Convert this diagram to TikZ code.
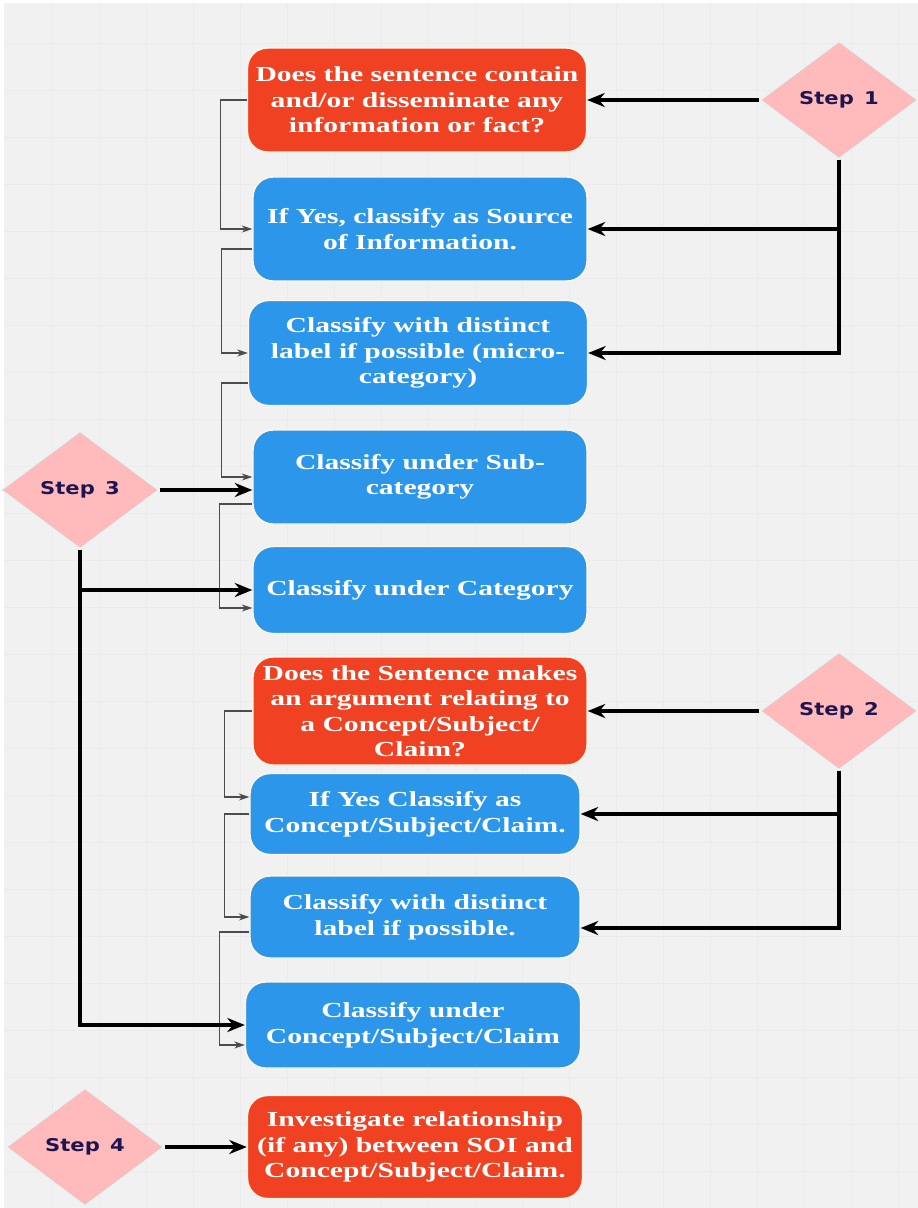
\documentclass[tikz,border=0pt]{standalone}
\usepackage{fontspec}
\usepackage{tikz}
\usetikzlibrary{shapes.geometric,arrows.meta}
\newfontfamily\boxfont{Liberation Serif}[FakeStretch=1.38]
\newfontfamily\stepfont{DejaVu Sans}[FakeStretch=1.2]
\definecolor{qred}{RGB}{240,66,34}
\definecolor{cblue}{RGB}{44,150,234}
\definecolor{steppink}{RGB}{255,187,187}
\definecolor{stepink}{RGB}{30,20,80}
\definecolor{bggrey}{RGB}{241,241,241}
\definecolor{gridgrey}{RGB}{235,235,235}
\definecolor{edgecream}{RGB}{255,246,228}
\definecolor{edgecyan}{RGB}{226,246,246}

\begin{document}
\begin{tikzpicture}[x=0.02cm, y=-0.02cm,
		qbox/.style={rounded corners=0.4cm, draw=edgecream, line width=0.8pt, text=white, align=center, inner sep=1pt, font=\boxfont\bfseries\fontsize{12.2}{14.5}\selectfont},
		redbox/.style={qbox, fill=qred},
		bluebox/.style={qbox, fill=cblue},
		stepbox/.style={diamond, aspect=1.34, fill=steppink, draw=edgecyan, line width=0.8pt, minimum width=3.16cm, minimum height=2.36cm, inner sep=0pt, text=stepink, font=\stepfont\bfseries\fontsize{10}{12}\selectfont},
		mainarrow/.style={-{Stealth[length=10pt,width=8pt]}, line width=1.8pt, black},
		flowarrow/.style={-{Stealth[length=6pt,width=4pt]}, line width=0.7pt, gray!60!black}]
			\useasboundingbox (0,0) rectangle (918,1208);
			\fill[bggrey] (4,3) rectangle (918,1208);
			\foreach \gx in {52,99,...,918} \draw[gridgrey, line width=0.3pt] (\gx,3) -- (\gx,1208);
			\foreach \gy in {43,90,...,1208} \draw[gridgrey, line width=0.3pt] (4,\gy) -- (918,\gy);
			
			\node[redbox, minimum width=6.78cm, minimum height=2.08cm] (b1) at (417,100) {Does the sentence contain\\and/or disseminate any\\information or fact?};
			\node[bluebox, minimum width=6.68cm, minimum height=2.08cm] (b2) at (420,229) {If Yes, classify as Source\\of Information.};
			\node[bluebox, minimum width=6.78cm, minimum height=2.1cm] (b3) at (418,353) {Classify with distinct\\label if possible (micro-\\category)};
			\node[bluebox, minimum width=6.68cm, minimum height=1.88cm] (b4) at (420,477) {Classify under Sub-\\category};
			\node[bluebox, minimum width=6.68cm, minimum height=1.74cm] (b5) at (420,590) {Classify under Category};
			\node[redbox, minimum width=6.68cm, minimum height=2.16cm] (b6) at (420,711) {Does the Sentence makes\\an argument relating to\\a Concept/Subject/\\Claim?};
			\node[bluebox, minimum width=6.6cm, minimum height=1.62cm] (b7) at (415,814) {If Yes Classify as\\Concept/Subject/Claim.};
			\node[bluebox, minimum width=6.6cm, minimum height=1.64cm] (b8) at (415,917) {Classify with distinct\\label if possible.};
			\node[bluebox, minimum width=6.7cm, minimum height=1.72cm] (b9) at (413,1025) {Classify under\\Concept/Subject/Claim};
			\node[redbox, minimum width=6.7cm, minimum height=2.06cm] (b10) at (415,1147) {Investigate relationship\\(if any) between SOI and\\Concept/Subject/Claim.};
			
			\node[stepbox] (s1) at (839,100) {Step\, 1};
			\node[stepbox] (s2) at (839,711) {Step\, 2};
			\node[stepbox] (s3) at (80,490) {Step\, 3};
			\node[stepbox] (s4) at (85,1147) {Step\, 4};
			
			\draw[flowarrow] (b1.west) -- ++(-26,0) |- (b2.west);
			\draw[flowarrow] ([yshift=-0.4cm]b2.west) -- ++(-31,0) |- (b3.west);
			\draw[flowarrow] ([yshift=-0.6cm]b3.west) -- ++(-26,0) |- (b4.west);
			\draw[flowarrow] ([yshift=-0.54cm]b4.west) -- ++(-33,0) |- ([yshift=-0.36cm]b5.west);
			\draw[flowarrow] (b6.west) -- ++(-28,0) |- ([yshift=0.34cm]b7.west);
			\draw[flowarrow] (b7.west) -- ++(-25,0) |- (b8.west);
			\draw[flowarrow] ([yshift=-0.3cm]b8.west) -- ++(-30,0) |- ([yshift=-0.4cm]b9.west);
			
			\draw[mainarrow] (s1.west) -- (b1.east);
			\draw[mainarrow] (s1.south) |- (b2.east);
			\draw[mainarrow] (s1.south) |- (b3.east);
			\draw[mainarrow] (s2.west) -- (b6.east);
			\draw[mainarrow] (s2.south) |- (b7.east);
			\draw[mainarrow] (s2.south) |- ([yshift=-0.22cm]b8.east);
			\draw[mainarrow] (s3.east) -- (s3.east -| b4.west);
			\draw[mainarrow] (s3.south) |- (b5.west);
			\draw[mainarrow] (s3.south) |- (b9.west);
			\draw[mainarrow] (s4.east) -- (b10.west);
		\end{tikzpicture}
\end{document}
